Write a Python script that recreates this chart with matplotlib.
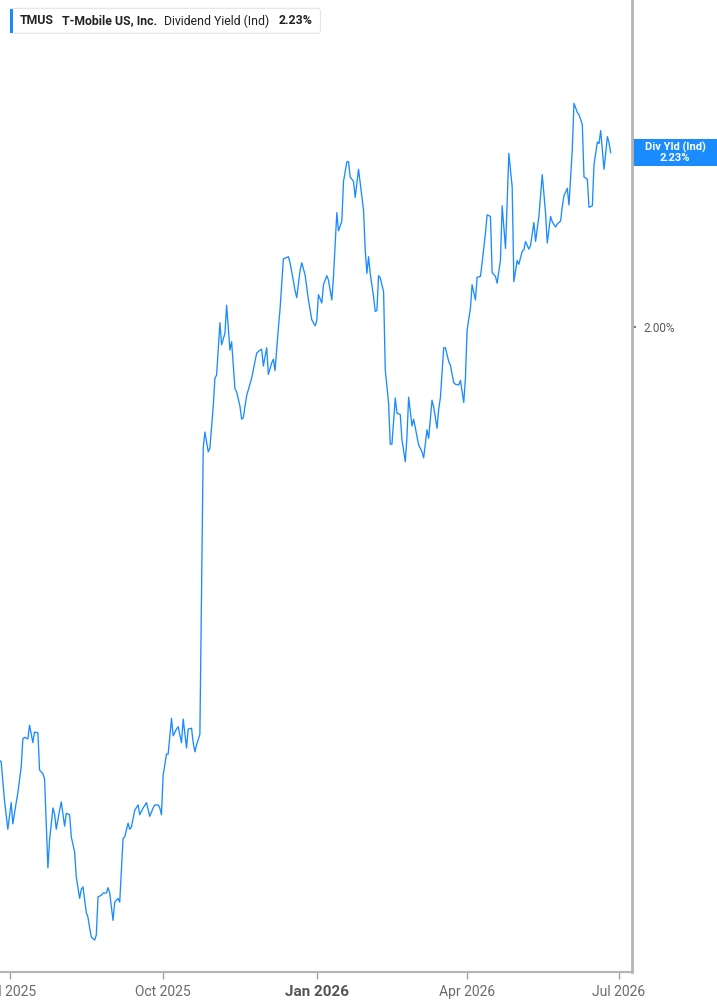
import numpy as np
import matplotlib
matplotlib.use("Agg")
import matplotlib.pyplot as plt
import matplotlib.dates as mdates
import matplotlib.transforms as mtransforms
from matplotlib.patches import FancyBboxPatch, Rectangle

# days since 2025-07-01 for each point of the series
days = [-6, -5, -3, -1, 1, 2, 4, 5, 7, 8, 9, 11, 12, 14, 15, 17, 18, 20, 21, 23,
        24, 26, 27, 28, 30, 31, 33, 34, 36, 37, 39, 40, 42, 43, 44, 46, 47, 48, 49, 51,
        52, 53, 55, 56, 58, 59, 60, 62, 63, 65, 66, 68, 69, 71,
        72, 73, 75, 77, 78, 80, 82, 84, 86, 87, 89, 90, 91, 92, 94, 95, 97, 98, 100, 101,
        103, 104, 106, 107, 109, 110, 111, 112, 114, 116, 117, 119, 120, 122, 123, 124,
        126, 127, 129, 130, 132, 133, 135, 136, 138, 139, 140, 142, 144, 145, 146, 148, 150,
        151, 152, 154, 155, 157, 158, 159, 161, 162, 164, 165, 167, 168, 170, 171, 172,
        174, 175, 177, 178, 179, 181, 183, 184, 185, 187, 188, 190, 191, 193, 194, 196,
        197, 199, 200, 202, 203, 204, 206, 207, 209, 210, 212, 213, 214, 215, 216, 218,
        219, 220, 221, 222, 224, 225, 227, 228, 229,
        231, 232, 234, 235, 237, 238, 239, 241, 242, 244, 245, 247, 248, 250, 251, 253,
        254, 256, 257, 258, 260, 261, 263, 264, 266, 267, 269, 270, 272, 273, 274, 276,
        277, 279, 280, 282, 283, 285, 286, 288, 289, 291, 292, 294, 295, 297, 298, 299,
        301, 302,
        304, 305, 307, 308, 309, 311, 312, 314, 315, 317, 318, 319, 321, 322, 324, 325,
        327, 328, 330, 331, 332, 334, 335, 337, 338, 340, 341, 343, 344, 346, 347, 349,
        350, 352, 353, 354, 356, 358, 359, 360]

# dividend yield (indicated), percent
yield_pct = [1.430, 1.428, 1.377, 1.339, 1.374, 1.346, 1.374, 1.387, 1.421, 1.458,
             1.460, 1.458, 1.476, 1.453, 1.467, 1.466, 1.417, 1.412, 1.405, 1.288,
             1.325, 1.367, 1.359, 1.339, 1.364, 1.375, 1.343, 1.360, 1.358, 1.329,
             1.309, 1.276, 1.248, 1.260, 1.263, 1.229, 1.223, 1.209, 1.197, 1.193,
             1.200, 1.250, 1.252, 1.255, 1.255, 1.262, 1.255, 1.219, 1.243, 1.248,
             1.243, 1.327, 1.329, 1.347,
             1.339, 1.342, 1.364, 1.371, 1.358, 1.367, 1.374, 1.356, 1.367, 1.371,
             1.371, 1.367, 1.358, 1.410, 1.438, 1.438, 1.485, 1.462, 1.471, 1.474,
             1.453, 1.484, 1.446, 1.471, 1.472, 1.453, 1.441, 1.450, 1.464, 1.841,
             1.862, 1.836, 1.841, 1.896, 1.933, 1.937, 2.006, 1.977, 1.992, 2.029,
             1.970, 1.981, 1.919, 1.915, 1.896, 1.879, 1.881, 1.910, 1.925, 1.933,
             1.944, 1.966, 1.970,
             1.971, 1.949, 1.973, 1.938, 1.953, 1.958, 1.943, 1.999, 2.024, 2.090,
             2.091, 2.093, 2.085, 2.061, 2.048, 2.039, 2.075, 2.085, 2.069, 2.053,
             2.036, 2.010, 2.002, 2.009, 2.043, 2.032, 2.056, 2.068, 2.062, 2.036,
             2.067, 2.151, 2.127, 2.140, 2.192, 2.218, 2.218, 2.198, 2.192, 2.171,
             2.208, 2.190, 2.154, 2.102, 2.071, 2.093, 2.071, 2.040, 2.021, 2.022,
             2.068, 2.065, 2.047, 1.944, 1.900, 1.846, 1.846,
             1.907, 1.887, 1.885, 1.852, 1.823, 1.856, 1.908, 1.870, 1.879, 1.856,
             1.845, 1.836, 1.828, 1.865, 1.854, 1.904, 1.895, 1.867, 1.892, 1.907,
             1.973, 1.973, 1.955, 1.950, 1.927, 1.925, 1.924, 1.930, 1.901, 1.933,
             1.996, 2.025, 2.056, 2.036, 2.066, 2.067, 2.085, 2.124, 2.148, 2.146,
             2.072, 2.067, 2.058, 2.089, 2.160, 2.104, 2.164, 2.229, 2.185, 2.060,
             2.088, 2.083, 2.100, 2.102, 2.113, 2.103, 2.108, 2.138, 2.113, 2.146,
             2.173, 2.201, 2.150, 2.111, 2.146, 2.139, 2.132, 2.136, 2.140, 2.159,
             2.173, 2.183, 2.161, 2.234, 2.295, 2.283, 2.280, 2.267, 2.198, 2.195,
             2.158, 2.160, 2.214, 2.244, 2.242, 2.259, 2.208, 2.251, 2.243, 2.230]

tick_dates = ["2025-07-01", "2025-10-01", "2026-01-01", "2026-04-01", "2026-07-01"]
tick_labels = ["Jul 2025", "Oct 2025", "Jan 2026", "Apr 2026", "Jul 2026"]

base = np.datetime64("2025-07-01")
dates = base + np.array(days).astype("timedelta64[D]")

blue = "#1a8cff"
W, H = 717, 1005

fig = plt.figure(figsize=(W / 100, H / 100), dpi=100)
ax = fig.add_axes([0, 1 - 972 / H, 632 / W, 972 / H])

ax.plot(dates, yield_pct, color=blue, linewidth=0.95)

t0 = mdates.date2num(base)
ax.set_xlim(t0 - 5.69, t0 + 372.75)
ax.set_ylim(1.151, 2.431)

for s in ["top", "left"]:
    ax.spines[s].set_visible(False)
ax.spines["right"].set_color("#b4b4b4")
ax.spines["right"].set_linewidth(2)
ax.spines["bottom"].set_color("#b4b4b4")
ax.spines["bottom"].set_linewidth(1.5)

narrow = ["Liberation Sans Narrow", "Roboto", "DejaVu Sans"]

ax.set_xticks([mdates.datestr2num(d) for d in tick_dates])
ax.set_xticklabels(tick_labels, family=narrow, fontsize=10, color="#6b6b6b")
ax.tick_params(axis="x", length=5, width=1, color="#a0a0a0", pad=4)
jan = ax.get_xticklabels()[2]
jan.set_fontweight("bold")
jan.set_color("#555555")
jan.set_fontsize(11)

ax.yaxis.tick_right()
ax.set_yticks([2.0])
ax.set_yticklabels(["2.00%"], family=["Roboto", "DejaVu Sans"], fontsize=8.5, color="#5a5a5a")
ax.tick_params(axis="y", length=3, width=1.5, color="#777777", pad=5)

# header legend box
hdr = FancyBboxPatch((10.5 / W, 1 - 33.3 / H), 310 / W, 25 / H,
                     boxstyle="round,pad=0,rounding_size=0.004",
                     transform=fig.transFigure, facecolor="white",
                     edgecolor="#e4e4e4", linewidth=0.8)
fig.add_artist(hdr)
fig.add_artist(Rectangle((10 / W, 1 - 33 / H), 3 / W, 24 / H,
                         transform=fig.transFigure, facecolor=blue, edgecolor="none"))
hy = 1 - 21 / H
hfont = ["Roboto", "DejaVu Sans"]
fig.text(20 / W, hy, "TMUS", family=hfont, fontsize=8.8, fontweight="bold",
         color="#222222", va="center")
fig.text(62 / W, hy, "T-Mobile US, Inc.", family=hfont, fontsize=8.8, fontweight="bold",
         color="#222222", va="center")
fig.text(164.5 / W, hy, "Dividend Yield (Ind)", family=hfont, fontsize=8.8,
         color="#222222", va="center")
fig.text(279 / W, hy, "2.23%", family=hfont, fontsize=8.8, fontweight="bold",
         color="#222222", va="center")

# last value label on the right
last = yield_pct[-1]
blend = mtransforms.blended_transform_factory(fig.transFigure, ax.transData)
box_h = 26.4 * (2.431 - 1.151) / 972
ax.add_patch(Rectangle((633 / W, last - box_h / 2), 84 / W, box_h, transform=blend,
                       facecolor=blue, edgecolor="none", clip_on=False))
ax.text(675 / W, last, "Div Yld (Ind)\n%.2f%%" % last, transform=blend,
        family=hfont, fontsize=8, fontweight="bold", color="white",
        ha="center", va="center", linespacing=1.0, clip_on=False)

fig.savefig("out.png", dpi=100)
